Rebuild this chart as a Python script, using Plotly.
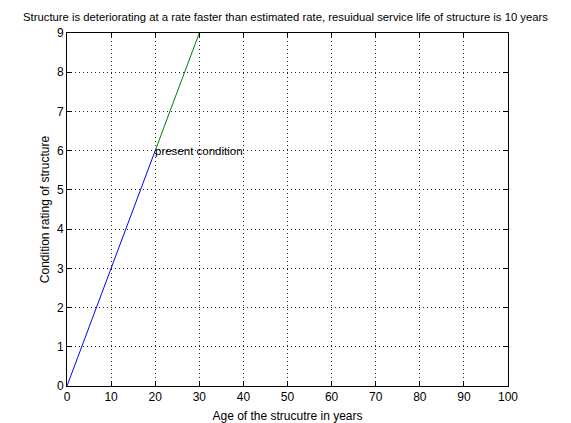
import plotly.graph_objects as go

# Data
past_age = [0, 20]
past_rating = [0, 6]
future_age = [20, 30]
future_rating = [6, 9]
x_ticks = [0, 10, 20, 30, 40, 50, 60, 70, 80, 90, 100]
y_ticks = [0, 1, 2, 3, 4, 5, 6, 7, 8, 9]
title_text = "Structure is deteriorating at a rate faster than estimated rate, resuidual service life of structure is 10 years"
annot_text = "present condition"

FONT = "Liberation Sans Narrow, Arial Narrow, Liberation Sans, Arial, sans-serif"

fig = go.Figure()
fig.add_trace(go.Scatter(x=past_age, y=past_rating, mode="lines",
                         line=dict(color="#0000ff", width=1), showlegend=False))
fig.add_trace(go.Scatter(x=future_age, y=future_rating, mode="lines",
                         line=dict(color="#008000", width=1), showlegend=False))

fig.add_annotation(x=past_age[-1], y=past_rating[-1], text=annot_text, showarrow=False,
                   xanchor="left", yanchor="middle", xshift=-2,
                   font=dict(family=FONT, size=11.5, color="black"))

axis_common = dict(
    showline=True, linecolor="black", linewidth=1, mirror="allticks",
    ticks="inside", ticklen=5, tickcolor="black", tickwidth=1,
    showgrid=True, gridcolor="#222222", griddash="1px,3px", gridwidth=1,
    zeroline=False, automargin=False,
    tickfont=dict(family=FONT, size=12, color="black"),
)

fig.update_xaxes(range=[0, 100], tickvals=x_ticks, **axis_common,
                 title=dict(text="Age of the strucutre in years", standoff=12,
                            font=dict(family=FONT, size=12, color="black")))
fig.update_yaxes(range=[0, 9], tickvals=y_ticks, **axis_common,
                 title=dict(text="Condition rating of structure", standoff=4,
                            font=dict(family=FONT, size=12, color="black")))

fig.update_layout(
    width=571, height=423,
    margin=dict(l=67, r=63, t=33, b=37),
    paper_bgcolor="white", plot_bgcolor="white",
    title=dict(text=title_text, x=0.5, xanchor="center", y=0.96, yanchor="middle",
               font=dict(family=FONT, size=11.3, color="black"), automargin=False),
    showlegend=False,
)

fig.write_html("out.html", config={"displayModeBar": False},
               post_script="document.body.style.margin='0px';")
